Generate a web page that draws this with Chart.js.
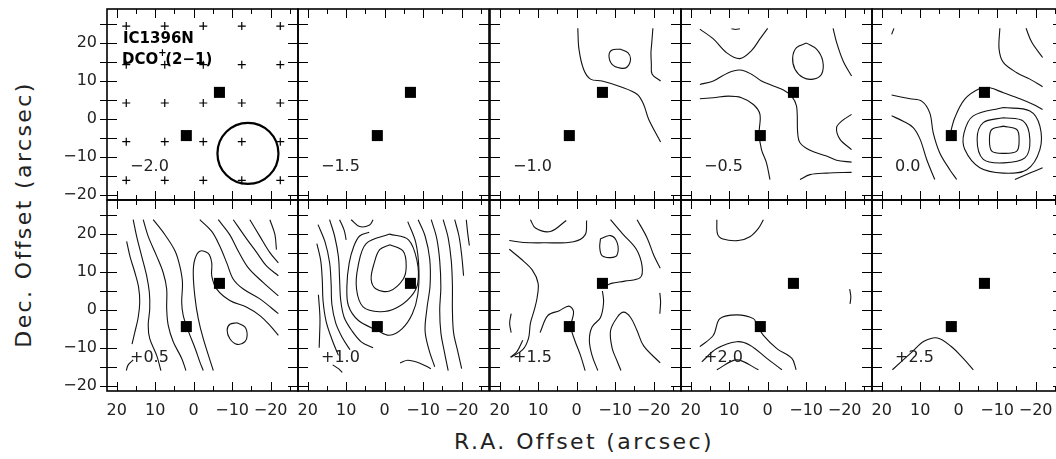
<!DOCTYPE html>
<html>
<head>
<meta charset="utf-8">
<script src="https://cdn.jsdelivr.net/npm/chart.js@4.4.1/dist/chart.umd.min.js"></script>
<style>
  body { margin: 0; background: #fff; }
  #wrap { position: relative; width: 1056px; height: 459px; overflow: hidden; }
  canvas { position: absolute; }
  .title { position: absolute; font-family: "DejaVu Sans", sans-serif; font-size: 22px; letter-spacing: 2.4px; color: #222; white-space: nowrap; }
</style>
</head>
<body>
<div id="wrap">
  <div class="title" id="xt">R.A. Offset (arcsec)</div>
  <div class="title" id="yt">Dec. Offset (arcsec)</div>
</div>
<script>
// velocity of each channel panel (km/s)
const panelLabels = ['\u22122.0', '\u22121.5', '\u22121.0', '\u22120.5', '0.0', '+0.5', '+1.0', '+1.5', '+2.0', '+2.5'];
const majorTicks = [20, 10, 0, -10, -20];
const majorTickLabels = ['20', '10', '0', '\u221210', '\u221220'];
const minorTicks = [25, 15, 5, -5, -15, -25];

// the two sources (filled squares), RA / Dec offsets
const sourceRA = [1.9, -6.7];
const sourceDec = [-4.4, 7.0];
// mapped positions (+) and beam, shown in first panel
const mapRA = [17.5, 7.5, -2.5, -12.5, -22.5];
const mapDec = [24.5, 14.3, 4.2, -6.0, -16.2];
const beam = [-14.1, -9.1];

// contours, one list of polylines per channel: [RA, Dec]
const cM20 = [];
const cM15 = [];
const cM10 = [
  [[-0.3,23.9],[-0.6,18.4],[-1.8,13.1],[-3.6,10.5],[-6.6,10.0],[-11.4,8.5],[-15.7,6.5],[-17.4,3.8],[-18.7,-0.1],[-21.8,-6.1]],
  [[-11.4,18.4],[-13.3,17.5],[-14.0,15.8],[-13.1,13.7],[-11.4,13.4],[-9.2,14.4],[-8.4,16.7],[-9.2,18.2],[-11.4,18.4]],
  [[-19.8,23.9],[-19.5,20],[-19.3,17.5],[-19.4,14.5],[-19.6,11.8],[-21.8,10.0]]
];
const cM05 = [
  [[17.6,23.7],[14.1,21.1],[10.7,17.5],[7.2,15.9],[4.2,18.0],[2.0,21.1],[0.0,23.9]],
  [[9.4,23.8],[8.3,23.6],[7.2,23.8]],
  [[17.6,9.1],[14.1,10.0],[10.2,12.2],[7.2,12.9],[4.2,11.8],[1.6,10.0],[-1.5,8.7],[-4.1,7.6],[-6.2,6.0],[-7.5,3.4],[-7.8,-3.7],[-8.4,-6.3],[-11.0,-8.3],[-15.3,-9.8],[-17.9,-10.9],[-21.8,-11.4]],
  [[17.6,5.3],[14.1,5.6],[10.2,6.0],[6.8,5.6],[3.7,3.8],[2.0,1.2],[2.2,-3.7],[1.6,-8.1],[0.3,-11.6],[-0.6,-16.0]],
  [[-10.1,20.0],[-12.7,18.4],[-14.3,15.3],[-14.0,11.8],[-11.8,10.5],[-9.2,10.9],[-7.1,13.1],[-6.5,16.2],[-7.5,18.8],[-10.1,20.0]],
  [[-17.0,23.9],[-17.9,20.2],[-19.6,15.3],[-21.8,11.3]],
  [[-21.8,1.2],[-19.2,-0.6],[-17.9,-2.3],[-18.8,-5.4],[-21.8,-8.1]],
  [[-8.4,-16.0],[-11.0,-14.7],[-15.3,-14.3],[-21.8,-14.1]]
];
const c00 = [
  [[17.4,22.3],[16.8,23.9]],
  [[-10.7,23.9],[-10.5,18.4],[-11.6,14.9],[-15.1,12.2],[-18.5,10.5],[-21.8,8.5]],
  [[-17.5,23.9],[-19.0,20.2],[-21.8,16.2]],
  [[17.4,6.3],[12.6,5.3],[9.6,4.7],[7.5,1.6],[6.6,-3.7],[4.9,-9.0],[2.3,-13.4],[0.5,-16.0]],
  [[17.4,0.8],[14.4,-0.6],[11.8,-2.3],[10.0,-5.4],[8.3,-10.7],[6.2,-16.0]],
  [[2.3,-4.4],[1.0,0.3],[-1.6,5.2],[-5.5,8.0],[-8.1,8.2],[-11.6,6.9],[-15.9,5.3],[-19.4,3.8],[-21.8,2.5]],
  [[-11.6,-1.9],[-15.1,-2.8],[-15.7,-5.4],[-15.1,-8.5],[-11.6,-9.1],[-8.6,-8.5],[-8.0,-5.4],[-8.6,-2.8],[-11.6,-1.9]],
  [[-11.6,0.3],[-16.8,-0.6],[-18.5,-5.4],[-17.2,-10.3],[-11.6,-11.6],[-6.4,-10.7],[-4.8,-5.4],[-6.4,-1.0],[-11.6,0.3]],
  [[-11.6,3.0],[-18.5,2.1],[-21.1,-1.9],[-21.1,-8.1],[-17.7,-13.4],[-11.6,-14.3],[-5.5,-12.9],[-1.6,-8.1],[-1.4,-3.7],[-3.8,0.8],[-11.6,3.0]],
  [[-14.6,-16.0],[-18.5,-14.3],[-21.8,-12.9]]
];
const cP05 = [
  [[17.4,18.1],[16.5,14],[15.3,10],[14.3,6],[14.0,2],[14.4,-2],[15.3,-6],[16,-9]],
  [[15.7,23.8],[14.8,19.4],[13.5,14.2],[12.2,9.0],[11.5,4.6],[11.4,0.3],[11.8,-4.1],[11.4,-7.6],[9.6,-12],[8.5,-16]],
  [[13.1,23.8],[11.8,19.4],[9.6,14.2],[7.9,9.8],[7.0,5.5],[7.0,0.3],[6.6,-4.1],[5.3,-8.4],[3.1,-12.8],[2.0,-16]],
  [[10.5,23.8],[7.5,19.9],[4.8,15.5],[3.6,11.6],[2.9,7.2],[3.1,2.0],[2.7,-1.5],[1.3,-5.8],[-0.4,-10.2],[-1.6,-13.7],[-2.5,-16]],
  [[-5.1,-16],[-2.5,-7.6],[-1.2,-2.3],[-0.3,3.7],[0.1,9.8],[-0.3,13.3],[-1.6,15.5],[-3.8,14.9],[-4.7,12.4],[-4.7,9.0],[-6.0,5.5],[-9.4,2.5],[-13.8,0.7],[-17.2,-1.5],[-19.8,-4.1],[-22.0,-6.7]],
  [[-1.6,23.8],[-4.7,20.7],[-6.8,16.8],[-8.6,12.4],[-10.3,8.1],[-12.9,5.5],[-17.2,2.9],[-22,-1]],
  [[-6.4,23.8],[-9.4,19.8],[-11.6,15.5],[-14.2,11.1],[-18.1,7.2],[-22,3.7]],
  [[-10.3,23.8],[-13.3,19.4],[-16.4,15.1],[-18.9,11.6],[-22,9.0]],
  [[-14.6,23.8],[-17.2,19.4],[-19.8,15.1],[-22,12.4]],
  [[-19.8,23.8],[-21.1,19.9],[-21.5,15.9]],
  [[-11.2,-3.4],[-13.3,-4.5],[-13.9,-6.7],[-13.3,-8.4],[-11.3,-9.1],[-9.4,-7.6],[-8.7,-5.4],[-9.4,-3.8],[-11.2,-3.4]],
  [[15.7,-13.2],[17,-14.5],[17.5,-16]]
];
const cP10 = [
  [[-1.3,17.2],[-4.8,15.5],[-5.6,11.6],[-4.8,8.1],[-1.3,5.0],[2.2,5.5],[3.5,8.1],[2.7,12.4],[1.3,15.9],[-1.3,17.2]],
  [[-1.3,20.0],[-6.2,18.5],[-8.4,13.0],[-8.6,7.0],[-6.8,3.5],[-3.0,0.5],[1.3,-0.5],[5.6,0.8],[7.3,5.5],[6.9,11.5],[4.8,17.5],[-1.3,20.0]],
  [[-6.0,23.3],[-8.1,17.7],[-8.9,10.7],[-8.6,4.0],[-7.2,-1.0],[-4.5,-5.0],[-1.2,-6.7],[1.9,-5.4],[6.8,-2.8],[9.4,1.1],[9.8,6.3],[9.2,12.4],[8.0,16.8],[6.5,19.5],[4.0,20.5]],
  [[8.7,23.8],[6.5,22.0],[3.9,22.4],[3.0,23.8]],
  [[11.7,23.8],[10.5,21.0],[10.0,18.5]],
  [[14.3,23.8],[13.0,19.5],[12.0,14.0],[11.7,8.0],[11.4,2.5],[10.5,-2.0],[8.5,-5.5],[6.0,-8.5],[3.0,-10.0]],
  [[17.3,22.5],[15.5,18.0],[14.3,12.5],[13.9,7.0],[13.7,1.5],[12.7,-3.5],[10.9,-7.5],[9.0,-10.5]],
  [[17.6,17.5],[16.6,13.0],[16.2,8.0],[16.0,2.5],[15.2,-3.0],[13.6,-8.0],[12.0,-12.0]],
  [[17.2,4.0],[16.8,-2.0],[16.9,-7.0],[17.0,-10.0]],
  [[-8.7,23.8],[-10.5,19.5],[-11.7,13.5],[-11.8,6.5],[-11.0,0.5],[-10.5,-5.5],[-11.5,-10.5],[-13.0,-15.0]],
  [[-12.1,23.8],[-13.5,19.0],[-14.3,13.0],[-14.6,6.0],[-14.3,0.0],[-14.6,-6.0],[-15.5,-11.0],[-16.5,-16.0]],
  [[-15.2,23.8],[-16.5,19.0],[-17.3,13.0],[-17.6,6.5],[-17.6,0.0],[-17.9,-6.0],[-19.0,-11.0],[-20.0,-15.5]],
  [[-18.2,23.8],[-19.3,19.5],[-20.0,14.5],[-20.5,9.0]],
  [[-21.2,23.8],[-21.6,20.0],[-22.0,17.0]],
  [[-4.0,-14.0],[-6.0,-13.3],[-9.0,-14.0],[-12.0,-15.5]],
  [[13.5,-14.5],[12.0,-15.5],[11.0,-16.5]]
];
const cP15 = [
  [[12.0,23.8],[10.7,21.6],[6.8,20.7],[2.7,23.6]],
  [[17.5,18.3],[13.8,17.8],[8.6,17.7],[0.8,18.0],[-2.2,19.8],[-2.6,23.6]],
  [[17.5,16.0],[14.5,13.5],[11.5,10.5],[10.0,7.0],[10.3,3.0],[11.0,0.0],[12.0,-3.5],[12.5,-7.5],[14.0,-10.5],[17.0,-12.5]],
  [[9.5,-6.0],[7.5,-1.5],[4.5,-0.2],[2.0,1.0],[0.8,-0.5],[1.5,-4.4],[0.5,-8.0],[-1.0,-12.0],[-2.2,-16.0]],
  [[17.0,-1.0],[17.4,-3.5],[17.0,-6.0]],
  [[-6.7,5.0],[-7.0,2.0],[-6.2,-2.0],[-4.0,-4.5],[-3.3,-8.0],[-4.0,-12.0],[-5.5,-16.0]],
  [[-7.0,6.0],[-9.0,7.0],[-12.5,7.6],[-16.5,8.5],[-17.0,11.5],[-15.5,16.0],[-12.0,20.0],[-8.8,23.8]],
  [[-6.2,18.8],[-8.8,19.6],[-10.5,17.8],[-10.5,14.5],[-8.8,13.8],[-6.6,14.3],[-6.0,16.5],[-6.2,18.8]],
  [[-15.7,23.8],[-18.3,19.0],[-20.0,14.5],[-21.7,11.0]],
  [[-21.6,4.5],[-21.8,2.0],[-21.6,-1.0]],
  [[-21.7,-14.0],[-17.4,-9.5],[-15.7,-5.5],[-14.0,-2.0],[-12.2,-0.6],[-10.5,-2.0],[-8.8,-5.5],[-9.2,-10.0],[-10.5,-13.5],[-11.5,-16.0]],
  [[17.2,-12.5],[15.5,-11.0],[14.0,-8.0]]
];
const cP20 = [
  [[13.2,23.8],[13.0,20.0],[11.6,18.7],[7.6,18.3],[4.6,19.3],[2.4,21.5],[1.1,23.8]],
  [[-21.3,5.5],[-21.6,3.5],[-21.4,1.6]],
  [[17.6,-9.7],[14.1,-6.7],[12.4,-2.3],[8.0,-1.3],[3.7,-2.3],[2.7,-4.1],[1.1,-6.7],[-2.4,-10.2],[-6.3,-12.8],[-7.4,-15.8]],
  [[17.1,-13.7],[13.2,-10.2],[8.0,-8.4],[4.6,-9.3],[0.2,-12.8],[-3.7,-15.8]],
  [[13.2,-15.8],[8.0,-13.2],[2.4,-15.8]]
];
const cP25 = [
  [[17.2,-15.8],[12.0,-11.0],[9.0,-8.3],[5.5,-7.4],[2.0,-9.6],[-1.2,-12.8],[-3.8,-15.8]]
];
const panelContours = [cM20, cM15, cM10, cM05, c00, cP05, cP10, cP15, cP20, cP25];

// layout (pixels)
const colLeft = [107, 298, 490, 681, 872];
const rowTop = [9, 200];
const side = 191;
const pad = 52;

const frame = {
  id: 'frame',
  afterDraw(chart) {
    const { ctx, chartArea: a, scales: { x, y } } = chart;
    const o = chart.options.plugins.frame;
    ctx.save();
    ctx.strokeStyle = '#000';
    ctx.lineWidth = 1;
    const ticks = majorTicks.map(v => [v, 9, 10]).concat(minorTicks.map(v => [v, 5, 10]));
    ctx.beginPath();
    ticks.forEach(([v, lx, ly]) => {
      const px = Math.round(x.getPixelForValue(v)) + 0.5;
      if (px > a.left + 1 && px < a.right - 1) {
        ctx.moveTo(px, a.top); ctx.lineTo(px, a.top + lx);
        ctx.moveTo(px, a.bottom); ctx.lineTo(px, a.bottom - lx);
      }
      const py = Math.round(y.getPixelForValue(v)) + 0.5;
      if (py > a.top + 1 && py < a.bottom - 1) {
        ctx.moveTo(a.left - (o.left ? 7 : 0), py); ctx.lineTo(a.left + ly, py);
        ctx.moveTo(a.right, py); ctx.lineTo(a.right - ly, py);
      }
    });
    ctx.stroke();
    ctx.lineWidth = 1.6;
    ctx.strokeRect(a.left, a.top, a.right - a.left, a.bottom - a.top);

    ctx.fillStyle = '#222';
    ctx.font = '16px "DejaVu Sans", sans-serif';
    ctx.textBaseline = 'middle';
    ctx.textAlign = 'left';
    ctx.fillText(o.label, a.left + 23, a.top + 158);
    if (o.left) {
      ctx.textAlign = 'right';
      majorTicks.forEach((v, i) => ctx.fillText(majorTickLabels[i], a.left - 10, y.getPixelForValue(v)));
    }
    if (o.bottom) {
      ctx.textAlign = 'center';
      majorTicks.forEach((v, i) => ctx.fillText(majorTickLabels[i], x.getPixelForValue(v), a.bottom + 20));
    }
    if (o.name) {
      ctx.fillStyle = '#000';
      ctx.textAlign = 'left';
      ctx.textBaseline = 'alphabetic';
      ctx.font = 'bold 15px "DejaVu Sans", sans-serif';
      ctx.fillText('IC1396N', a.left + 16, a.top + 34);
      ctx.fillText('DCO', a.left + 15, a.top + 55);
      const w = ctx.measureText('DCO').width;
      ctx.font = 'bold 10px "DejaVu Sans", sans-serif';
      ctx.fillText('+', a.left + 15 + w, a.top + 47);
      ctx.font = 'bold 15px "DejaVu Sans", sans-serif';
      ctx.fillText('(2\u22121)', a.left + 22 + w, a.top + 55);
    }
    ctx.restore();
  }
};

const wrap = document.getElementById('wrap');
panelContours.forEach((lines, i) => {
  const col = i % 5, row = Math.floor(i / 5);
  const cv = document.createElement('canvas');
  cv.width = side + 2 * pad;
  cv.height = side + 2 * pad;
  cv.style.left = (colLeft[col] - pad) + 'px';
  cv.style.top = (rowTop[row] - pad) + 'px';
  wrap.appendChild(cv);

  const datasets = lines.map(line => ({
    data: line.map(p => ({ x: p[0], y: p[1] })),
    showLine: true, borderColor: '#111', borderWidth: 1.1, pointRadius: 0,
    tension: 0.35, fill: false, order: 2
  }));
  datasets.push({
    data: sourceRA.map((ra, k) => ({ x: ra, y: sourceDec[k] })),
    pointStyle: 'rect', pointRadius: 7.8, backgroundColor: '#000', borderWidth: 0, order: 0
  });
  if (i === 0) {
    const grid = [];
    mapDec.forEach(d => mapRA.forEach(r => grid.push({ x: r, y: d })));
    datasets.push({
      data: grid, pointStyle: 'cross', pointRadius: 4, borderColor: '#000', borderWidth: 1.2, order: 1
    });
    datasets.push({
      data: [{ x: beam[0], y: beam[1] }], pointStyle: 'circle', pointRadius: 30.5,
      borderColor: '#000', borderWidth: 2.2, backgroundColor: 'rgba(0,0,0,0)', order: 1
    });
  }

  new Chart(cv, {
    type: 'scatter',
    data: { datasets },
    options: {
      responsive: false,
      animation: false,
      devicePixelRatio: 1,
      layout: { padding: pad },
      events: [],
      scales: {
        x: { type: 'linear', min: -27.1, max: 22.5, reverse: true, display: false },
        y: { type: 'linear', min: -21.4, max: 29.0, display: false }
      },
      plugins: {
        legend: { display: false },
        tooltip: { enabled: false },
        frame: { label: panelLabels[i], left: col === 0, bottom: row === 1, name: i === 0 }
      }
    },
    plugins: [frame]
  });
});

const xt = document.getElementById('xt');
xt.style.left = (584 - xt.offsetWidth / 2) + 'px';
xt.style.top = (441 - xt.offsetHeight / 2) + 'px';
const yt = document.getElementById('yt');
yt.style.left = (23 - yt.offsetWidth / 2) + 'px';
yt.style.top = (214 - yt.offsetHeight / 2) + 'px';
yt.style.transform = 'rotate(-90deg)';
</script>
</body>
</html>
